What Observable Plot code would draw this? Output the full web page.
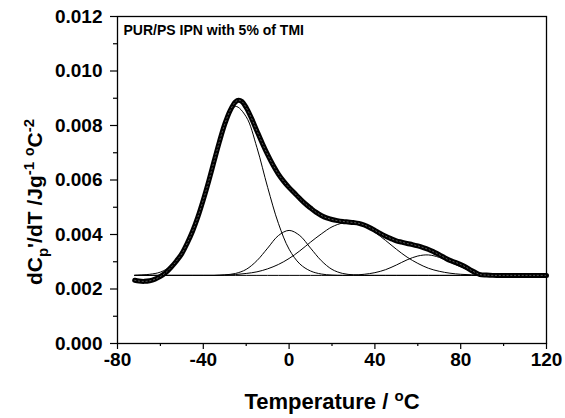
<!DOCTYPE html>
<html>
<head>
<meta charset="utf-8">
<script src="https://cdn.jsdelivr.net/npm/d3@7"></script>
<script src="https://cdn.jsdelivr.net/npm/@observablehq/plot@0.6"></script>
<style>
  html, body { margin: 0; padding: 0; background: #fff; }
  #chart svg { display: block; }
</style>
</head>
<body>
<div id="chart"></div>
<script>
// ---- data ----
const titleText = "PUR/PS IPN with 5% of TMI";
const xTickValues = [-80, -40, 0, 40, 80, 120];
const xMinorTicks = [-60, -20, 20, 60, 100];
const yTickValues = [0, 0.002, 0.004, 0.006, 0.008, 0.010, 0.012];
const yMinorTicks = [0.001, 0.003, 0.005, 0.007, 0.009, 0.011];

// measured curve (open circles)
const expT = [-72, -70, -67.5, -65, -62.5, -60, -57.5, -55, -52.5, -50, -47.5, -45, -42.5, -40, -37.5, -35, -32.5, -30, -27.5, -25, -23.5, -22, -20, -17.5, -15, -12.5, -10, -7.5, -5, -2.5, 0, 2.5, 5, 7.5, 10, 12.5, 15, 17.5, 20, 22.5, 25, 27.5, 30, 32.5, 35, 37.5, 40, 42.5, 45, 47.5, 50, 52.5, 55, 57.5, 60, 62.5, 65, 67.5, 70, 72.5, 75, 77.5, 80, 82.5, 85, 87.5, 89, 92, 95, 100, 105, 110, 115, 120];
const expV = [0.00232, 0.00229, 0.00228, 0.00230, 0.00236, 0.00246, 0.00260, 0.00280, 0.00303, 0.00330, 0.00368, 0.00412, 0.00465, 0.00527, 0.00595, 0.00668, 0.00740, 0.00805, 0.00855, 0.00887, 0.00893, 0.00888, 0.00866, 0.00826, 0.00780, 0.00735, 0.00693, 0.00655, 0.00622, 0.00595, 0.00572, 0.00552, 0.00532, 0.00513, 0.00497, 0.00482, 0.00470, 0.00461, 0.00455, 0.00451, 0.00448, 0.00446, 0.00444, 0.00441, 0.00435, 0.00426, 0.00415, 0.00404, 0.00394, 0.00385, 0.00377, 0.00372, 0.00367, 0.00363, 0.00358, 0.00352, 0.00345, 0.00336, 0.00326, 0.00315, 0.00305, 0.00298, 0.00290, 0.00280, 0.00268, 0.00258, 0.00253, 0.00251, 0.00250, 0.00250, 0.00250, 0.00250, 0.00250, 0.00250];

// fitted peak components on a shared temperature grid
const gridT = [-72, -70, -65, -60, -55, -50, -45, -40, -35, -30, -25, -20, -15, -10, -5, 0, 5, 10, 15, 20, 25, 30, 35, 40, 45, 50, 55, 60, 65, 70, 75, 80, 85, 90, 95, 100, 105, 110, 115, 120];
const peak1 = [0.00250, 0.00251, 0.00254, 0.00262, 0.00285, 0.00330, 0.00410, 0.00530, 0.00676, 0.00806, 0.00870, 0.00832, 0.00719, 0.00573, 0.00441, 0.00346, 0.00292, 0.00266, 0.00255, 0.00251, 0.00250, 0.00250, 0.00250, 0.00250, 0.00250, 0.00250, 0.00250, 0.00250, 0.00250, 0.00250, 0.00250, 0.00250, 0.00250, 0.00250, 0.00250, 0.00250, 0.00250, 0.00250, 0.00250, 0.00250];
const peak2 = [0.00250, 0.00250, 0.00250, 0.00250, 0.00250, 0.00250, 0.00250, 0.00250, 0.00250, 0.00252, 0.00257, 0.00272, 0.00304, 0.00350, 0.00396, 0.00415, 0.00396, 0.00350, 0.00304, 0.00272, 0.00257, 0.00252, 0.00250, 0.00250, 0.00250, 0.00250, 0.00250, 0.00250, 0.00250, 0.00250, 0.00250, 0.00250, 0.00250, 0.00250, 0.00250, 0.00250, 0.00250, 0.00250, 0.00250, 0.00250];
const peak3 = [0.00250, 0.00250, 0.00250, 0.00250, 0.00250, 0.00250, 0.00250, 0.00250, 0.00250, 0.00251, 0.00253, 0.00257, 0.00263, 0.00274, 0.00290, 0.00312, 0.00340, 0.00372, 0.00402, 0.00428, 0.00442, 0.00444, 0.00432, 0.00408, 0.00378, 0.00346, 0.00317, 0.00294, 0.00276, 0.00265, 0.00258, 0.00254, 0.00252, 0.00251, 0.00250, 0.00250, 0.00250, 0.00250, 0.00250, 0.00250];
const peak4 = [0.00250, 0.00250, 0.00250, 0.00250, 0.00250, 0.00250, 0.00250, 0.00250, 0.00250, 0.00250, 0.00250, 0.00250, 0.00250, 0.00250, 0.00250, 0.00250, 0.00250, 0.00250, 0.00250, 0.00250, 0.00250, 0.00251, 0.00254, 0.00260, 0.00271, 0.00288, 0.00307, 0.00321, 0.00325, 0.00316, 0.00299, 0.00281, 0.00266, 0.00257, 0.00253, 0.00251, 0.00250, 0.00250, 0.00250, 0.00250];

// ---- build tables ----
const expRows = expT.map((t, i) => ({t, v: expV[i]}));
const comps = [peak1, peak2, peak3, peak4].map((arr, k) => gridT.map((t, i) => ({t, v: arr[i], k})));

const font = "'Liberation Sans', Arial, Helvetica, sans-serif";

const chart = Plot.plot({
  width: 565,
  height: 418,
  marginLeft: 117,
  marginRight: 19,
  marginTop: 16,
  marginBottom: 75,
  style: {fontFamily: font, color: "black", background: "white", overflow: "visible"},
  x: {domain: [-80, 120], label: null},
  y: {domain: [0, 0.012], label: null},
  marks: [
    ...comps.map(rows => Plot.line(rows, {x: "t", y: "v", stroke: "black", strokeWidth: 1, curve: "catmull-rom"})),
    Plot.line(expRows, {x: "t", y: "v", stroke: "black", strokeWidth: 5, curve: "catmull-rom"}),
    Plot.line(expRows, {x: "t", y: "v", stroke: "white", strokeWidth: 0.8, strokeOpacity: 0.45, strokeDasharray: "1.2 2.6", curve: "catmull-rom"}),
    Plot.frame({stroke: "black", strokeWidth: 1.3}),
    Plot.axisX({ticks: xTickValues, tickSize: 6, tickPadding: 3, tickFormat: d => String(d), fontSize: 19, fontWeight: "bold", label: null, strokeWidth: 1.2}),
    Plot.axisX({ticks: xMinorTicks, tickSize: 3, tickFormat: () => "", label: null, strokeWidth: 1.2}),
    Plot.axisY({ticks: yTickValues, tickSize: 7, tickPadding: 8, tickFormat: d3.format(".3f"), fontSize: 19, fontWeight: "bold", label: null, strokeWidth: 1.2}),
    Plot.axisY({ticks: yMinorTicks, tickSize: 4, tickFormat: () => "", label: null, strokeWidth: 1.2}),
    Plot.text([titleText], {frameAnchor: "top-left", dx: 6, dy: 9, text: d => d, textAnchor: "start", lineAnchor: "top", fontSize: 14, fontWeight: "bold"})
  ]
});

document.getElementById("chart").appendChild(chart);

// axis titles with sub/superscripts
const svg = d3.select(chart);
const xl = svg.append("text")
  .attr("x", 332).attr("y", 409)
  .attr("text-anchor", "middle")
  .attr("font-family", font).attr("font-weight", "bold").attr("font-size", 22)
  .attr("fill", "black");
xl.append("tspan").text("Temperature / ");
xl.append("tspan").attr("font-size", 15).attr("dy", -8).text("o");
xl.append("tspan").attr("dy", 8).text("C");

const yl = svg.append("text")
  .attr("transform", "translate(42,202) rotate(-90)")
  .attr("text-anchor", "middle")
  .attr("font-family", font).attr("font-weight", "bold").attr("font-size", 21)
  .attr("fill", "black");
yl.append("tspan").text("dC");
yl.append("tspan").attr("font-size", 15).attr("dy", 6).text("p");
yl.append("tspan").attr("dy", -6).text("'/dT /Jg");
yl.append("tspan").attr("font-size", 15).attr("dy", -8).text("-1");
yl.append("tspan").attr("dy", 8).text(" ");
yl.append("tspan").attr("font-size", 14).attr("dy", -8).text("o");
yl.append("tspan").attr("dy", 8).text("C");
yl.append("tspan").attr("font-size", 15).attr("dy", -8).text("-2");
</script>
</body>
</html>
